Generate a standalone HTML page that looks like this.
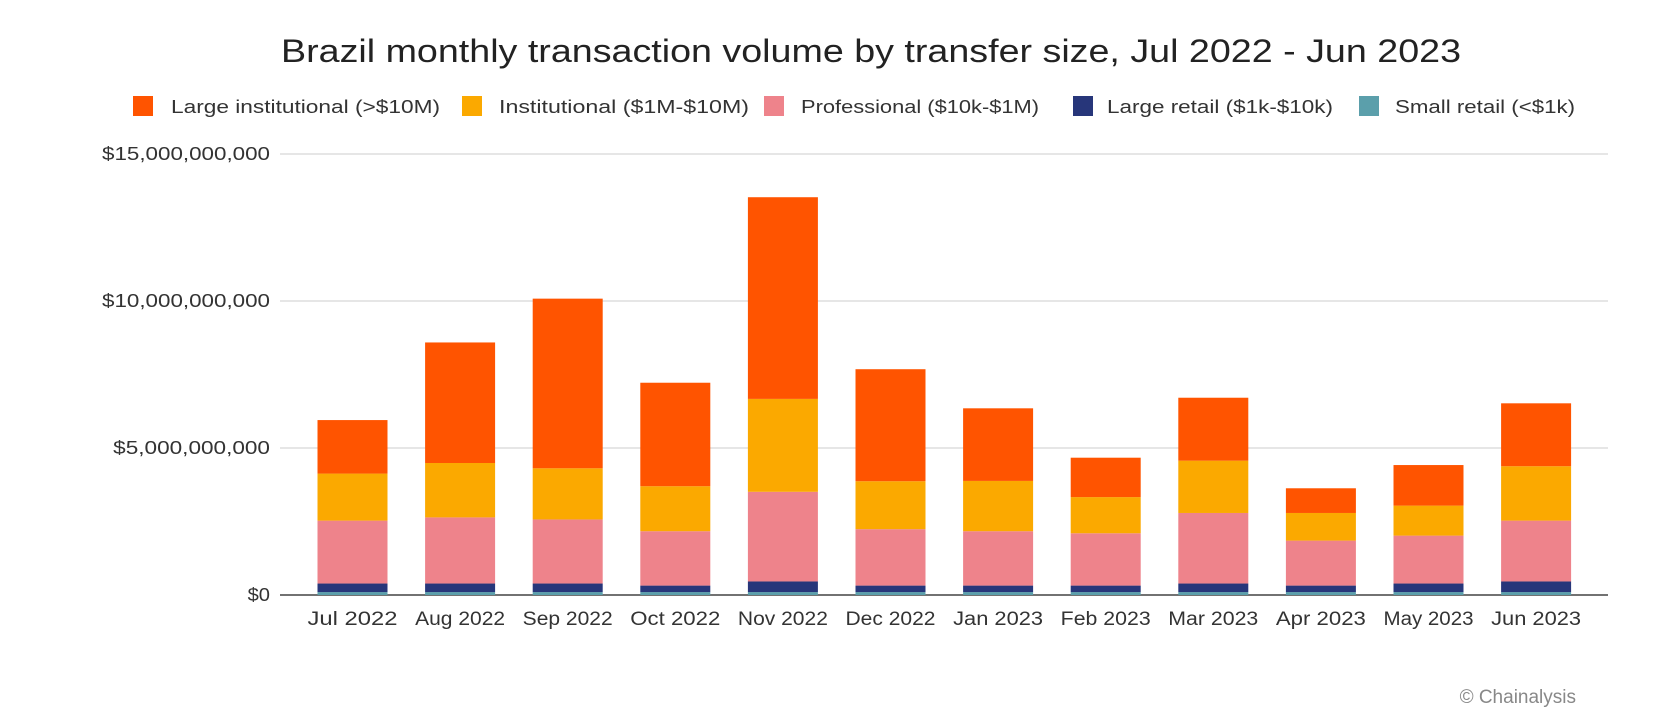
<!DOCTYPE html>
<html><head><meta charset="utf-8"><style>
body{margin:0;background:#fff;font-family:"Liberation Sans",sans-serif;}
svg{display:block}
</style></head><body>
<svg width="1674" height="728">
<text x="281" y="62" font-size="32" fill="#222" textLength="1180" lengthAdjust="spacingAndGlyphs">Brazil monthly transaction volume by transfer size, Jul 2022 - Jun 2023</text>
<g id="legend"></g>
<g id="grid"></g><g id="bars"></g><g id="xl"></g>
<text x="1576" y="703" text-anchor="end" font-size="19" fill="#888">© Chainalysis</text>
</svg>
<script>
const categories=["Jul 2022","Aug 2022","Sep 2022","Oct 2022","Nov 2022","Dec 2022","Jan 2023","Feb 2023","Mar 2023","Apr 2023","May 2023","Jun 2023"];
const smallRetail=[0.1,0.1,0.1,0.1,0.1,0.1,0.1,0.1,0.1,0.1,0.1,0.1];
const largeRetail=[0.29,0.29,0.29,0.22,0.36,0.22,0.22,0.22,0.29,0.22,0.29,0.36];
const professional=[2.14,2.25,2.18,1.85,3.05,1.92,1.85,1.78,2.40,1.53,1.63,2.07];
const institutional=[1.60,1.85,1.74,1.53,3.16,1.63,1.71,1.23,1.78,0.94,1.02,1.85];
const largeInstitutional=[1.82,4.10,5.77,3.52,6.86,3.81,2.47,1.34,2.14,0.84,1.38,2.14];
const yTicks=[0,5,10,15];
const yTickLabels=["$0","$5,000,000,000","$10,000,000,000","$15,000,000,000"];
const seriesNames=["Large institutional (>$10M)","Institutional ($1M-$10M)","Professional ($10k-$1M)","Large retail ($1k-$10k)","Small retail (<$1k)"];
const NS="http://www.w3.org/2000/svg";
const y0=595,pxPer=29.4,x0=280,x1=1608,step=107.6,firstC=352.5,bw=70;
const y=v=>y0-v*pxPer, x=i=>firstC+i*step;
function mk(t,a,p){const e=document.createElementNS(NS,t);for(const k in a)e.setAttribute(k,a[k]);p.appendChild(e);return e;}
const grid=document.getElementById('grid');
yTicks.forEach((t,i)=>{
 if(t>0){const l=mk('line',{x1:x0,x2:x1,y1:y(t),y2:y(t),stroke:'#ddd','stroke-width':1.5},grid);
 
 }
 const lab=yTickLabels[i];
 const tx=mk('text',{x:270,y:y(t)+6,'text-anchor':'end','font-size':18,fill:'#333',textLength:(lab.length*11.2).toFixed(1),lengthAdjust:'spacingAndGlyphs'},grid);tx.textContent=lab;
 
 
});
const ax=mk('line',{x1:x0,x2:x1,y1:y0,y2:y0,stroke:'#444','stroke-width':1.5},grid);


const colors=["#FF5400","#FBA900","#EE838B","#27367A","#5B9FAB"];
const stackOrder=[smallRetail,largeRetail,professional,institutional,largeInstitutional];
const stackColors=["#5B9FAB","#27367A","#EE838B","#FBA900","#FF5400"];
const bars=document.getElementById('bars'),xl=document.getElementById('xl');
categories.forEach((c,i)=>{
 let acc=0;
 stackOrder.forEach((s,j)=>{
  const r=mk('rect',{x:x(i)-bw/2,y:y(acc+s[i]),width:bw,height:s[i]*pxPer,fill:stackColors[j]},bars);
  
  
  acc+=s[i];
 });
 const t=mk('text',{x:x(i),y:625,'text-anchor':'middle','font-size':19,fill:'#333',textLength:90,lengthAdjust:'spacingAndGlyphs'},xl);t.textContent=c;
 
 
});
const lg=document.getElementById('legend');
const lx=[133,462,764,1073,1359];
const tx0=[171,499,801,1107,1395];
const tw=[269,250,238,226,180];
seriesNames.forEach((n,i)=>{
 const r=mk('rect',{x:lx[i],y:96,width:20,height:20,fill:colors[i]},lg);
 
 
 const t=mk('text',{x:tx0[i],y:113,'font-size':18,fill:'#333',textLength:tw[i],lengthAdjust:'spacingAndGlyphs'},lg);t.textContent=n;
 
 
});
</script>
</body></html>
